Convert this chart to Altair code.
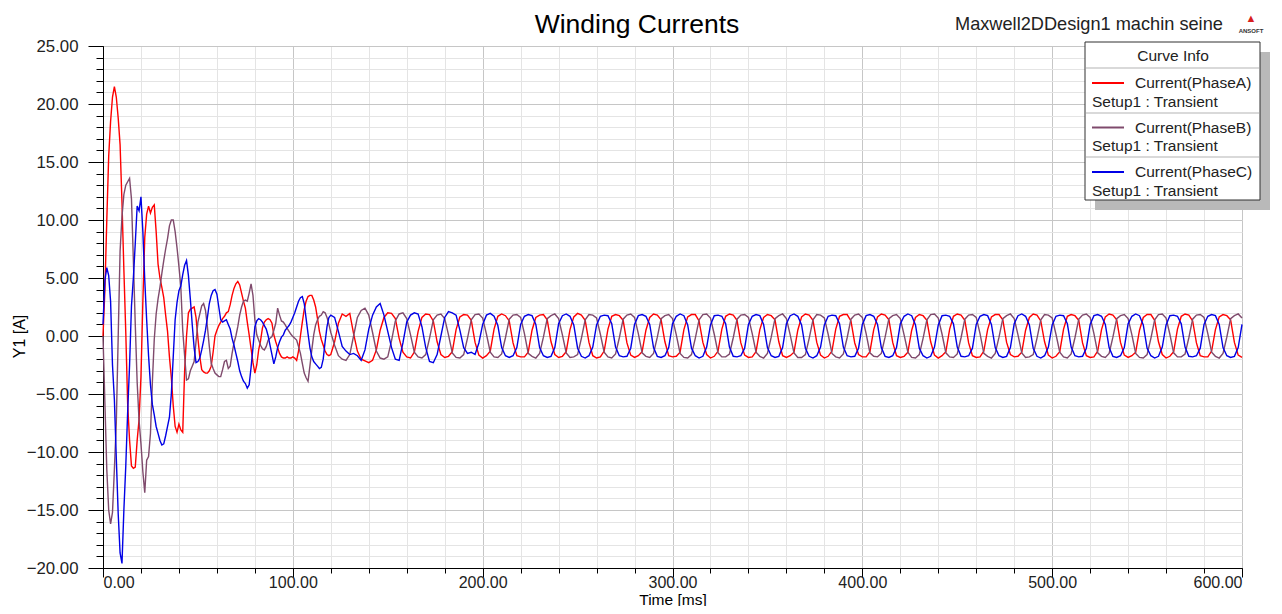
import altair as alt
import pandas as pd

# ---------------- data ----------------
SERIES = ["Current(PhaseA)", "Current(PhaseB)", "Current(PhaseC)"]
COLORS = ["#ff0000", "#7f4a6c", "#0000e6"]
SETUP = "Setup1 : Transient"
TITLE = "Winding Currents"
DESIGN = "Maxwell2DDesign1 machin seine"
LEGEND_TITLE = "Curve Info"
X_TICKS = [0, 100, 200, 300, 400, 500, 600]
X_MINOR = list(range(0, 601, 20))
Y_TICKS = [-20, -15, -10, -5, 0, 5, 10, 15, 20, 25]
Y_MINOR = list(range(-20, 26))

T_FAST = list(range(0, 121))        # ms (1 ms samples)
T_SLOW = list(range(122, 601, 2))   # ms (2 ms samples)

A_FAST = [
    0.0, 4.0, 10.0, 15.5, 18.5, 20.6, 21.5, 20.6, 18.8, 16.5,
    11.5, 5.7, 0.3, -5.9, -9.0, -11.2, -11.4, -11.3, -9.0, -7.2,
    -3.5, 3.0, 8.5, 10.5, 11.2, 10.6, 11.1, 11.3, 9.0, 6.2,
    5.0, 4.2, 3.3, 1.8, 0.4, -1.8, -3.6, -6.0, -7.8, -8.3,
    -7.6, -8.1, -8.3, -3.0, 0.0, 2.0, 2.3, 2.4, 2.5, 1.6,
    -0.2, -1.8, -2.9, -3.1, -3.2, -3.2, -3.0, -2.6, -1.4, 0.0,
    0.5, 0.9, 1.2, 1.5, 1.7, 2.0, 2.1, 2.7, 3.5, 4.1,
    4.5, 4.7, 4.4, 3.7, 3.0, 2.4, 1.2, 0.1, -1.1, -2.3,
    -3.2, -2.5, -1.2, -0.4, 0.7, 1.2, 1.4, 1.5, 1.4, 1.1,
    0.1, -0.5, -1.0, -1.5, -1.8, -1.9, -1.9, -1.8, -1.9, -1.9,
    -1.8, -1.9, -2.1, -1.3, 0.0, 1.2, 2.3, 3.0, 3.4, 3.5,
    3.5, 3.1, 2.5, 1.5, 0.4, -0.3, -0.8, -1.3, -1.6, -1.7,
    -1.6,
]
B_FAST = [
    0.0, -5.8, -11.5, -15.0, -16.2, -15.2, -11.5, -7.5, -0.1, 7.3,
    10.3, 12.2, 13.0, 13.3, 13.6, 11.8, 6.5, 1.0, -4.0, -7.3,
    -9.3, -11.7, -13.5, -10.7, -10.4, -8.4, -4.0, -0.3, 1.9, 3.2,
    4.2, 5.4, 6.5, 7.5, 8.4, 9.5, 10.0, 10.0, 9.0, 7.6,
    6.0, 4.2, 0.5, -1.7, -3.8, -3.7, -3.0, -2.6, -2.2, -0.5,
    1.2, 1.9, 2.6, 2.8, 2.2, 0.8, -0.9, -2.35, -2.8, -3.2,
    -3.35, -3.5, -3.5, -2.9, -2.2, -2.1, -2.8, -2.6, -1.5, -0.6,
    0.0, 0.8, 1.8, 2.5, 3.0, 3.1, 3.0, 3.7, 4.5, 3.5,
    1.4, 0.1, -0.35, -0.8, -1.1, -1.2, -0.9, -0.35, -0.2, -0.05,
    0.5, 1.1, 2.4, 1.8, 1.3, 1.2, 0.95, 0.66, 0.4, 0.15,
    -0.05, -0.2, -0.35, -0.9, -1.5, -2.35, -3.2, -3.6, -3.9, -2.6,
    -1.2, 0.1, 0.95, 1.4, 1.7, 1.8, 2.1, 2.0, 1.6, 1.0,
    0.3,
]
C_FAST = [
    1.0, 4.8, 5.9, 5.2, 3.0, -2.5, -5.5, -10.5, -15.3, -18.7,
    -19.6, -15.0, -11.2, -6.5, -2.5, 2.6, 5.0, 8.0, 11.2, 10.8,
    12.0, 9.0, 4.8, 1.4, -1.7, -4.2, -5.9, -6.8, -7.8, -8.4,
    -9.0, -9.4, -9.3, -8.6, -7.8, -7.0, -5.0, -1.8, 1.4, 2.9,
    3.9, 4.3, 5.3, 6.1, 6.5, 5.2, 3.2, 1.0, -1.0, -2.3,
    -2.2, -1.9, -1.2, -0.4, 0.5, 1.6, 2.8, 3.5, 3.9, 4.0,
    3.6, 2.5, 1.4, 1.2, 1.3, 1.4, 1.0, 0.6, -0.2, -0.8,
    -1.5, -2.2, -3.0, -3.5, -3.9, -4.1, -4.5, -4.2, -2.7, -1.0,
    0.8, 1.3, 1.5, 1.4, 1.2, 0.9, 0.6, 0.0, -0.8, -1.6,
    -2.4, -1.8, -1.0, -0.5, -0.1, 0.1, 0.5, 0.7, 0.9, 1.2,
    1.6, 2.0, 2.5, 3.0, 3.3, 3.4, 2.8, 1.5, 0.2, -1.0,
    -1.8, -2.2, -2.4, -2.6, -2.8, -2.7, -2.0, -0.5, 0.8, 1.6,
    1.8,
]

A_SLOW = [
    -0.5, 1.1, 1.9, 1.7, 1.95, 0.2, -1.3, -2.0, -2.15,          # 122-138
    -2.3, -2.1, -1.2, 0.5, 1.6, 2.0, 1.95, 1.5, -0.2, -1.4,     # 140
    -1.8, -1.9, -1.4, 0.4, 1.6, 1.9, 1.85, 1.3, -0.5, -1.6,     # 160
    -1.85, -1.75, -1.35, 0.55, 1.65, 1.85, 1.8, 1.35, -0.55, -1.65,
    -1.9, -1.7, -1.3, 0.6, 1.7, 1.9, 1.75, 1.3, -0.6, -1.7,
    -1.8, -1.8, -1.4, 0.5, 1.6, 1.8, 1.85, 1.4, -0.5, -1.6,
    -1.85, -1.75, -1.35, 0.55, 1.65, 1.95, 1.8, 1.35, -0.55, -1.7,
    -1.9, -1.8, -1.3, 0.6, 1.7, 1.85, 1.75, 1.35, -0.6, -1.65,
    -1.85, -1.7, -1.35, 0.5, 1.6, 1.9, 1.8, 1.4, -0.5, -1.7,
    -1.8, -1.75, -1.4, 0.55, 1.65, 1.85, 1.85, 1.3, -0.55, -1.6,
    -1.9, -1.75, -1.3, 0.6, 1.7, 1.9, 1.8, 1.35, -0.6, -1.65,
    -1.85, -1.8, -1.35, 0.55, 1.6, 1.85, 1.75, 1.4, -0.5, -1.7,
    -1.85, -1.7, -1.4, 0.5, 1.65, 1.9, 1.8, 1.35, -0.55, -1.65,
    -1.9, -1.75, -1.3, 0.6, 1.7, 1.85, 1.85, 1.3, -0.6, -1.6,
    -1.8, -1.8, -1.35, 0.55, 1.65, 1.9, 1.8, 1.4, -0.55, -1.7,
    -1.85, -1.75, -1.4, 0.5, 1.6, 1.85, 1.75, 1.35, -0.5, -1.65,
    -1.9, -1.7, -1.35, 0.6, 1.7, 1.9, 1.8, 1.35, -0.6, -1.7,
    -1.85, -1.8, -1.3, 0.55, 1.65, 1.85, 1.85, 1.4, -0.55, -1.6,
    -1.8, -1.75, -1.4, 0.5, 1.6, 1.9, 1.8, 1.3, -0.5, -1.65,
    -1.9, -1.75, -1.35, 0.6, 1.7, 1.85, 1.75, 1.35, -0.6, -1.7,
    -1.85, -1.8, -1.3, 0.55, 1.65, 1.9, 1.8, 1.4, -0.55, -1.65,
    -1.85, -1.7, -1.4, 0.5, 1.6, 1.85, 1.85, 1.35, -0.5, -1.6,
    -1.9, -1.75, -1.35, 0.6, 1.7, 1.9, 1.8, 1.3, -0.6, -1.7,
    -1.8, -1.8, -1.3, 0.55, 1.65, 1.85, 1.75, 1.4, -0.55, -1.65,
    -1.85,                                                          # 600
]
B_SLOW = [
    -0.8, -1.7, -2.0, -2.1, -1.6, 0.0, 1.6, 2.2, 2.4,
    1.8, 0.3, -1.3, -1.9, -2.0, -1.8, -0.4, 1.3, 1.9, 2.0,
    1.5, 0.1, -1.4, -1.8, -1.9, -1.6, -0.2, 1.4, 1.8, 1.9,
    1.5, 0.1, -1.45, -1.85, -1.9, -1.6, -0.2, 1.4, 1.85, 1.9,
    1.55, 0.15, -1.4, -1.8, -1.85, -1.55, -0.15, 1.45, 1.8, 1.85,
    1.6, 0.2, -1.5, -1.75, -1.9, -1.5, -0.1, 1.5, 1.75, 1.9,
    1.5, 0.1, -1.45, -1.85, -1.8, -1.6, -0.2, 1.4, 1.85, 1.8,
    1.55, 0.15, -1.4, -1.8, -1.9, -1.55, -0.15, 1.45, 1.8, 1.9,
    1.6, 0.2, -1.45, -1.75, -1.85, -1.5, -0.1, 1.5, 1.75, 1.85,
    1.5, 0.1, -1.5, -1.85, -1.9, -1.6, -0.2, 1.4, 1.85, 1.9,
    1.55, 0.15, -1.45, -1.8, -1.8, -1.55, -0.15, 1.45, 1.8, 1.85,
    1.6, 0.2, -1.4, -1.75, -1.9, -1.5, -0.1, 1.5, 1.75, 1.9,
    1.5, 0.1, -1.45, -1.85, -1.85, -1.6, -0.2, 1.4, 1.85, 1.8,
    1.55, 0.15, -1.5, -1.8, -1.9, -1.55, -0.15, 1.45, 1.8, 1.9,
    1.6, 0.2, -1.45, -1.75, -1.8, -1.5, -0.1, 1.5, 1.75, 1.85,
    1.5, 0.1, -1.4, -1.85, -1.9, -1.6, -0.2, 1.4, 1.85, 1.9,
    1.55, 0.15, -1.45, -1.8, -1.85, -1.55, -0.15, 1.45, 1.8, 1.85,
    1.6, 0.2, -1.5, -1.75, -1.9, -1.5, -0.1, 1.5, 1.75, 1.9,
    1.5, 0.1, -1.45, -1.85, -1.8, -1.6, -0.2, 1.4, 1.85, 1.8,
    1.55, 0.15, -1.4, -1.8, -1.9, -1.55, -0.15, 1.45, 1.8, 1.9,
    1.6, 0.2, -1.45, -1.75, -1.85, -1.5, -0.1, 1.5, 1.75, 1.85,
    1.5, 0.1, -1.5, -1.85, -1.9, -1.6, -0.2, 1.4, 1.85, 1.9,
    1.55, 0.15, -1.45, -1.8, -1.8, -1.55, -0.15, 1.45, 1.8, 1.85,
    1.6, 0.2, -1.4, -1.75, -1.9, -1.5, -0.1, 1.5, 1.75, 1.9,
    1.55,
]
C_SLOW = [
    1.6, 0.4, -0.9, -1.3, -1.6, -1.5, -1.7, -2.1, -1.2,
    0.6, 1.8, 2.5, 2.8, 1.8, 0.4, -1.0, -2.0, -2.1, -0.6,
    1.2, 1.8, 2.0, 1.9, 0.8, -1.0, -2.2, -2.3, -1.6, 0.0,
    1.6, 2.1, 2.0, 1.8, 0.5, -1.0, -1.5, -1.4, -1.6, -0.6,
    1.0, 1.8, 1.95, 1.7, 0.9, -1.0, -1.7, -1.85, -1.7, -1.0,
    1.0, 1.7, 1.85, 1.75, 1.0, -1.0, -1.7, -1.85, -1.75, -1.0,
    1.05, 1.75, 1.9, 1.7, 0.95, -1.05, -1.75, -1.9, -1.7, -0.95,
    0.95, 1.7, 1.8, 1.75, 1.05, -0.95, -1.7, -1.8, -1.75, -1.05,
    1.0, 1.75, 1.85, 1.7, 1.0, -1.0, -1.75, -1.85, -1.7, -1.0,
    1.05, 1.7, 1.9, 1.75, 0.95, -1.05, -1.7, -1.9, -1.75, -0.95,
    0.95, 1.75, 1.8, 1.7, 1.05, -0.95, -1.75, -1.8, -1.7, -1.05,
    1.0, 1.7, 1.85, 1.75, 1.0, -1.0, -1.7, -1.85, -1.75, -1.0,
    1.05, 1.75, 1.9, 1.7, 0.95, -1.05, -1.75, -1.9, -1.7, -0.95,
    0.95, 1.7, 1.8, 1.75, 1.05, -0.95, -1.7, -1.8, -1.75, -1.05,
    1.0, 1.75, 1.85, 1.7, 1.0, -1.0, -1.75, -1.85, -1.7, -1.0,
    1.05, 1.7, 1.9, 1.75, 0.95, -1.05, -1.7, -1.9, -1.75, -0.95,
    0.95, 1.75, 1.8, 1.7, 1.05, -0.95, -1.75, -1.8, -1.7, -1.05,
    1.0, 1.7, 1.85, 1.75, 1.0, -1.0, -1.7, -1.85, -1.75, -1.0,
    1.05, 1.75, 1.9, 1.7, 0.95, -1.05, -1.75, -1.9, -1.7, -0.95,
    0.95, 1.7, 1.8, 1.75, 1.05, -0.95, -1.7, -1.8, -1.75, -1.05,
    1.0, 1.75, 1.85, 1.7, 1.0, -1.0, -1.75, -1.85, -1.7, -1.0,
    1.05, 1.7, 1.9, 1.75, 0.95, -1.05, -1.7, -1.9, -1.75, -0.95,
    0.95, 1.75, 1.8, 1.7, 1.05, -0.95, -1.75, -1.8, -1.7, -1.05,
    1.0, 1.7, 1.85, 1.75, 1.0, -1.0, -1.7, -1.85, -1.75, -1.0,
    1.0,
]

# ---------------- table ----------------
TIME = T_FAST + T_SLOW
VALUES = [A_FAST + A_SLOW, B_FAST + B_SLOW, C_FAST + C_SLOW]
rows = []
for name, vals in zip(SERIES, VALUES):
    assert len(vals) == len(TIME), (name, len(vals), len(TIME))
    for t, v in zip(TIME, vals):
        rows.append({"t": t, "i": v, "curve": name})
df = pd.DataFrame(rows)

W, H = 1139, 522
FONT = "Liberation Sans"
one = pd.DataFrame({"k": [0]})

xs = alt.Scale(domain=[0, 600], nice=False, zero=False)
ys = alt.Scale(domain=[-20, 25], nice=False, zero=False)
cscale = alt.Scale(domain=SERIES, range=COLORS)

# minor grid + minor ticks (invisible carrier layer)
minor = alt.Chart(df).mark_line(strokeOpacity=0).encode(
    x=alt.X("t:Q", scale=xs, axis=alt.Axis(
        orient="bottom", values=X_MINOR, labels=False, title="", tickSize=5,
        tickColor="#000", domain=False, grid=True, gridColor="#e4e4e4")),
    y=alt.Y("i:Q", scale=ys, axis=alt.Axis(
        orient="left", values=Y_MINOR, labels=False, title="", tickSize=7,
        tickColor="#000", domain=False, grid=True, gridColor="#e4e4e4")),
    detail="curve:N",
)

lines = alt.Chart(df).mark_line(strokeWidth=1.4).encode(
    x=alt.X("t:Q", scale=xs, axis=alt.Axis(
        orient="bottom", values=X_TICKS, format=".2f", title="Time [ms]",
        tickSize=9, labelPadding=-3, labelFont=FONT, labelFontSize=16,
        labelColor="#222", titleFont=FONT, titleFontSize=15.5,
        titleFontWeight="normal", titleColor="#000", titleY=31,
        titleBaseline="middle", domainColor="#000", tickColor="#000",
        grid=True, gridColor="#c6c6c6")),
    y=alt.Y("i:Q", scale=ys, axis=alt.Axis(
        orient="left", values=Y_TICKS, format=".2f", title="Y1 [A]",
        tickSize=15, labelPadding=10, labelFont=FONT, labelFontSize=16.8,
        labelColor="#222", titleFont=FONT, titleFontSize=16,
        titleFontWeight="normal", titleColor="#000", titleX=-84, titleY=290,
        titleAngle=270, titleAlign="center", titleBaseline="middle",
        domainColor="#000", tickColor="#000", grid=True, gridColor="#c6c6c6")),
    color=alt.Color("curve:N", scale=cscale, legend=None),
)

def txt(s, x, y, size, align="left", color="#222", weight="normal"):
    return alt.Chart(pd.DataFrame({"s": [s]})).mark_text(
        font=FONT, fontSize=size, align=align, baseline="middle",
        color=color, fontWeight=weight,
    ).encode(text="s:N", x=alt.value(x), y=alt.value(y))

def rect(x, x2, y, y2, fill, stroke=None):
    kw = {"fill": fill}
    if stroke:
        kw.update(stroke=stroke, strokeWidth=1)
    return alt.Chart(one).mark_rect(**kw).encode(
        x=alt.value(x), x2=alt.value(x2), y=alt.value(y), y2=alt.value(y2))

def hrule(x, x2, y, color, width):
    return alt.Chart(one).mark_rule(color=color, strokeWidth=width).encode(
        x=alt.value(x), x2=alt.value(x2), y=alt.value(y))

deco = [
    txt(TITLE, 534, -21, 26.5, align="center", color="#000"),
    txt(DESIGN, 852, -21, 18.2, color="#222"),
    txt("\u25B2", 1148, -27, 11, align="center", color="#d81e1e"),
    txt("ANSOFT", 1148, -15, 6, align="center", color="#333", weight="bold"),
    rect(992, 1167, 6, 164, "#b9b9b9"),
    rect(982, 1157, -4, 154, "#ffffff", "#303030"),
    txt(LEGEND_TITLE, 1070, 10, 15.5, align="center"),
    hrule(983, 1156, 22, "#cccccc", 1.5),
    hrule(983, 1156, 67, "#cccccc", 1.5),
    hrule(983, 1156, 111, "#cccccc", 1.5),
]
for k, (name, col) in enumerate(zip(SERIES, COLORS)):
    y0 = 37 + 44.5 * k
    deco.append(hrule(989, 1021, y0, col, 2))
    deco.append(txt(name, 1032, y0, 15.5))
    deco.append(txt(SETUP, 989, y0 + 18.5, 15.5))

chart = alt.layer(minor, lines, *deco).resolve_axis(
    x="independent", y="independent"
).properties(
    width=W, height=H,
    padding={"left": 95, "top": 38, "right": 32, "bottom": 38},
    autosize=alt.AutoSizeParams(type="none"),
).configure_view(stroke="#404040", strokeWidth=1).configure(background="white")

chart.save("out.html", embed_options={"renderer": "svg", "actions": False})
